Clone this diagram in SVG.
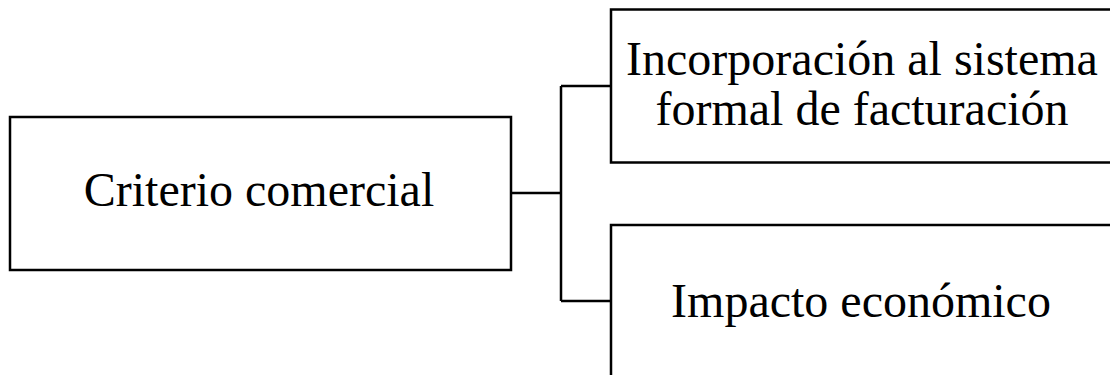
<svg xmlns="http://www.w3.org/2000/svg" width="1110" height="375" viewBox="0 0 1110 375">
<style>
.box{fill:#fff;stroke:#000;stroke-width:2.5}
.conn{fill:none;stroke:#000;stroke-width:2.5}
.t{font-family:"Liberation Serif","Times New Roman",serif;font-size:48px;fill:#000;text-anchor:middle}
</style>
<rect width="1110" height="375" fill="#fff"/>
<g id="connectors">
<path class="conn" d="M511 193 H561 M561 86 V301 M561 86 H611 M561 301 H611"/>
</g>
<g id="node-criterio">
<rect class="box" x="10" y="117" width="501" height="153"/>
<text class="t" x="259" y="206">Criterio comercial</text>
</g>
<g id="node-incorporacion">
<rect class="box" x="611" y="9.5" width="505" height="153"/>
<text class="t" x="862" y="75">Incorporación al sistema</text>
<text class="t" x="862" y="125">formal de facturación</text>
</g>
<g id="node-impacto">
<rect class="box" x="611" y="225" width="505" height="160"/>
<text class="t" x="861" y="317">Impacto económico</text>
</g>
</svg>
